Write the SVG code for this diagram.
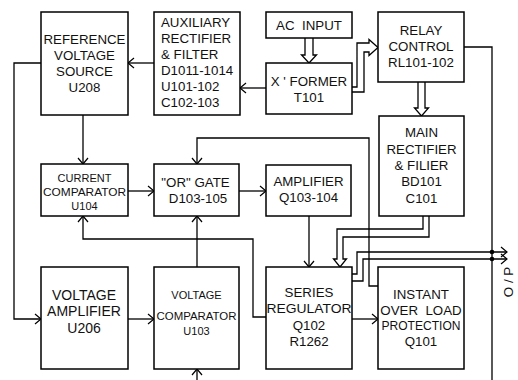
<svg xmlns="http://www.w3.org/2000/svg" width="518" height="380" viewBox="0 0 518 380">
<defs>
<marker id="arr" markerUnits="userSpaceOnUse" markerWidth="14" markerHeight="14" viewBox="-8 -7 10 14" refX="0" refY="0" orient="auto" overflow="visible">
<path d="M-6,-5 L0,0 L-6,5" fill="none" stroke="#000" stroke-width="1.2"/>
</marker>
<style>
.box{fill:#fff;stroke:#000;stroke-width:1.5}
.ln{fill:none;stroke:#000;stroke-width:1.3}
.t{font-family:"Liberation Sans",Arial,sans-serif;font-size:13.3px;fill:#111;text-anchor:middle}
.s{font-size:11px}
.l{text-anchor:start}
</style>
</defs>
<g id="connectors">
<path class="ln" d="M154,63 H128" marker-end="url(#arr)"/>
<path class="ln" d="M266,88 H240" marker-end="url(#arr)"/>
<path class="ln" d="M305,38 V55 H301.5 L309,63 L316.5,55 H313 V38"/>
<path class="ln" d="M352,87 H357 V43 H369 V39.5 L378,47.5 L369,55.5 V52 H364 V92 H352"/>
<path class="ln" d="M418,82 V108 H414.5 L421.5,116 L428.5,108 H425 V82"/>
<path class="ln" d="M423,216 V229 H337 V259 H333.5 L340,267 L346.5,259 H343 V237 H429 V216"/>
<path class="ln" d="M464,47 H492 V380"/>
<path class="ln" d="M352,274 H357 V252 H507" marker-end="url(#arr)"/>
<path class="ln" d="M352,281 H363 V259 H507" marker-end="url(#arr)"/>
<circle cx="492" cy="252" r="2.3" fill="#000"/>
<circle cx="492" cy="259" r="2.3" fill="#000"/>
<path class="ln" d="M83,115 V164" marker-end="url(#arr)"/>
<path class="ln" d="M128,191 H154" marker-end="url(#arr)"/>
<path class="ln" d="M239,191 H266" marker-end="url(#arr)"/>
<path class="ln" d="M309,216 V267" marker-end="url(#arr)"/>
<path class="ln" d="M41,63 H14 V319 H41" marker-end="url(#arr)"/>
<path class="ln" d="M128,319 H154" marker-end="url(#arr)"/>
<path class="ln" d="M197,267 V216" marker-end="url(#arr)"/>
<path class="ln" d="M197,380 V369" marker-end="url(#arr)"/>
<path class="ln" d="M378,286 H369 V138 H197 V164" marker-end="url(#arr)"/>
<path class="ln" d="M266,317 H253 V239 H83 V216" marker-end="url(#arr)"/>
<path class="ln" d="M352,319 H378" marker-end="url(#arr)"/>
</g>
<g id="ref">
<rect class="box" x="41" y="12" width="87" height="103"/>
<text class="t" x="84.5" y="44">REFERENCE</text>
<text class="t" x="84.5" y="60">VOLTAGE</text>
<text class="t" x="84.5" y="76">SOURCE</text>
<text class="t" x="84.5" y="92">U208</text>
</g>
<g id="aux">
<rect class="box" x="154" y="12" width="86" height="103"/>
<text class="t l" x="161" y="27">AUXILIARY</text>
<text class="t l" x="161" y="43">RECTIFIER</text>
<text class="t l" x="161" y="59">&amp; FILTER</text>
<text class="t l" x="161" y="75">D1011-1014</text>
<text class="t l" x="161" y="91">U101-102</text>
<text class="t l" x="161" y="107">C102-103</text>
</g>
<g id="acin">
<rect class="box" x="266" y="12" width="86" height="26"/>
<text class="t" x="309" y="30" xml:space="preserve">AC  INPUT</text>
</g>
<g id="xformer">
<rect class="box" x="266" y="63" width="86" height="51"/>
<text class="t" x="309" y="86">X ' FORMER</text>
<text class="t" x="309" y="102">T101</text>
</g>
<g id="relay">
<rect class="box" x="378" y="12" width="86" height="70"/>
<text class="t" x="421" y="35">RELAY</text>
<text class="t" x="421" y="51">CONTROL</text>
<text class="t" x="421" y="67">RL101-102</text>
</g>
<g id="main">
<rect class="box" x="379" y="116" width="85" height="100"/>
<text class="t" x="421.5" y="137">MAIN</text>
<text class="t" x="421.5" y="154">RECTIFIER</text>
<text class="t" x="421.5" y="170">&amp; FILIER</text>
<text class="t" x="421.5" y="186">BD101</text>
<text class="t" x="421.5" y="203">C101</text>
</g>
<g id="curcomp">
<rect class="box" x="41" y="164" width="87" height="52"/>
<text class="t s" x="84.5" y="182">CURRENT</text>
<text class="t s" x="84.5" y="196" textLength="83" lengthAdjust="spacingAndGlyphs">COMPARATOR</text>
<text class="t s" x="84.5" y="210">U104</text>
</g>
<g id="orgate">
<rect class="box" x="154" y="164" width="85" height="52"/>
<text class="t" x="195.5" y="187">"OR" GATE</text>
<text class="t" x="198" y="203">D103-105</text>
</g>
<g id="amp">
<rect class="box" x="266" y="165" width="85" height="51"/>
<text class="t" x="308.5" y="186">AMPLIFIER</text>
<text class="t" x="308.5" y="202">Q103-104</text>
</g>
<g id="vamp">
<rect class="box" x="41" y="267" width="87" height="102"/>
<text class="t" x="84" y="300" style="font-size:14px">VOLTAGE</text>
<text class="t" x="84" y="316" style="font-size:14px">AMPLIFIER</text>
<text class="t" x="84" y="333" style="font-size:14px">U206</text>
</g>
<g id="vcomp">
<rect class="box" x="154" y="267" width="85" height="102"/>
<text class="t s" x="196.5" y="299">VOLTAGE</text>
<text class="t s" x="196.5" y="320" textLength="80" lengthAdjust="spacingAndGlyphs">COMPARATOR</text>
<text class="t s" x="196.5" y="335">U103</text>
</g>
<g id="series">
<rect class="box" x="266" y="267" width="86" height="102"/>
<text class="t" x="309" y="297">SERIES</text>
<text class="t" x="309" y="313" textLength="85" lengthAdjust="spacingAndGlyphs">REGULATOR</text>
<text class="t" x="309" y="330">Q102</text>
<text class="t" x="309" y="346">R1262</text>
</g>
<g id="overload">
<rect class="box" x="378" y="267" width="86" height="102"/>
<text class="t" x="421" y="299">INSTANT</text>
<text class="t" x="421" y="315" xml:space="preserve">OVER  LOAD</text>
<text class="t" x="421" y="330" textLength="79" lengthAdjust="spacingAndGlyphs">PROTECTION</text>
<text class="t" x="421" y="346">Q101</text>
</g>
<text class="t" transform="translate(513,282) rotate(-90)">O / P</text>
</svg>
